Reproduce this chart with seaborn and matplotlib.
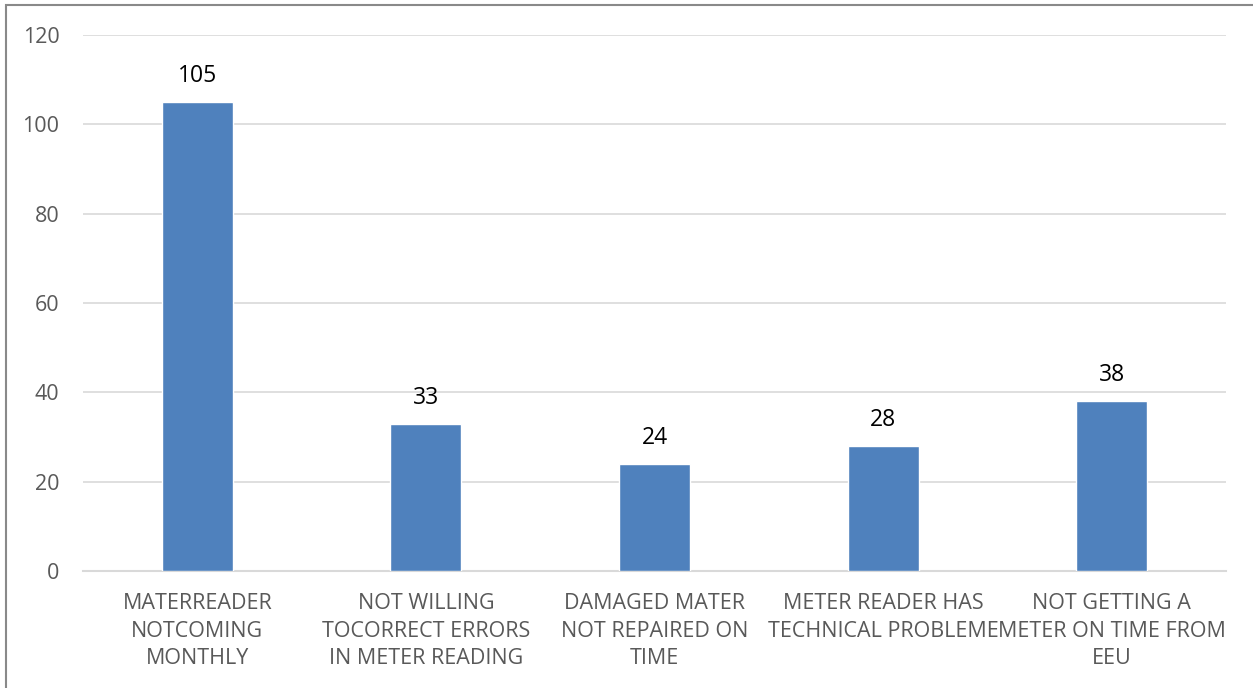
import matplotlib
matplotlib.use("Agg")
import matplotlib.pyplot as plt
import seaborn as sns
import pandas as pd
from matplotlib.patches import Rectangle

categories = [
    "MATERREADER\nNOTCOMING\nMONTHLY",
    "NOT WILLING\nTOCORRECT ERRORS\nIN METER READING",
    "DAMAGED MATER\nNOT REPAIRED ON\nTIME",
    "METER READER HAS\nTECHNICAL PROBLEME",
    "NOT GETTING A\nMETER ON TIME FROM\nEEU",
]
counts = [105, 33, 24, 28, 38]
y_ticks = [0, 20, 40, 60, 80, 100, 120]

df = pd.DataFrame({"reason": categories, "count": counts})

sns.set_theme(style="white")
plt.rcParams["font.family"] = ["Open Sans", "DejaVu Sans"]

fig = plt.figure(figsize=(12.53, 6.88), dpi=100)
ax = fig.add_axes([83 / 1253, 1 - 571 / 688, (1226 - 83) / 1253, (571 - 35) / 688])

sns.barplot(data=df, x="reason", y="count", color="#4F81BD", width=0.31,
            saturation=1, ax=ax, zorder=3)

ax.set_ylim(0, 120)
ax.set_yticks(y_ticks)
ax.set_xlim(-0.5, len(categories) - 0.5)
ax.yaxis.grid(True, color="#D9D9D9", linewidth=1.2, zorder=0)
ax.set_axisbelow(True)
for side in ["left", "right", "top"]:
    ax.spines[side].set_visible(False)
ax.spines["bottom"].set_color("#D9D9D9")
ax.spines["bottom"].set_linewidth(1.5)
ax.set_xlabel("")
ax.set_ylabel("")
ax.tick_params(axis="y", length=0, labelsize=15.5, labelcolor="#595959", pad=17)
ax.tick_params(axis="x", length=0, labelsize=15.5, labelcolor="#595959", pad=16)
for lbl in ax.get_xticklabels():
    lbl.set_linespacing(1.4)

for i, v in enumerate(counts):
    ax.annotate(str(v), (i, v), xytext=(0, 10), textcoords="offset points",
                ha="center", va="bottom", fontsize=16.5, color="black")

# outer chart frame
fig.patches.append(Rectangle((6 / 1253, -0.1), 1.2, 1 - 5 / 688 + 0.1,
                             transform=fig.transFigure, fill=False,
                             edgecolor="#898989", linewidth=1.5))

fig.savefig("out.png", dpi=100)
